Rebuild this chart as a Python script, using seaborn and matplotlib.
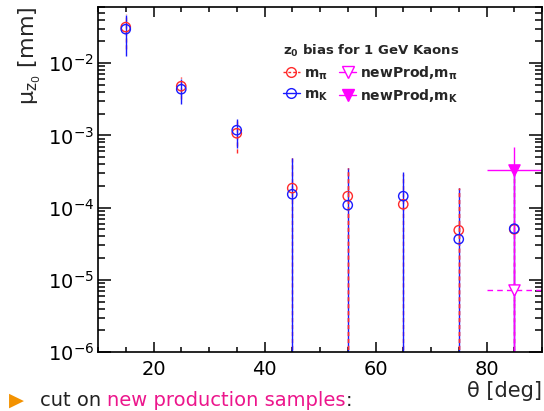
import pandas as pd
import seaborn as sns
import matplotlib.pyplot as plt
from matplotlib.lines import Line2D
from matplotlib.ticker import MultipleLocator, LogLocator, NullFormatter

# z0 bias vs theta
theta = [15, 25, 35, 45, 55, 65, 75, 85]
mu_pi = [0.0316, 0.0048, 1.07e-3, 1.86e-4, 1.44e-4, 1.11e-4, 4.86e-5, 5.0e-5]
err_pi = [0.016, 0.0016, 5.0e-4, 3.1e-4, 2.1e-4, 1.8e-4, 1.37e-4, 2.5e-4]
mu_k = [0.0296, 0.00436, 1.18e-3, 1.53e-4, 1.08e-4, 1.44e-4, 3.65e-5, 5.1e-5]
err_k = [0.017, 0.0016, 5.1e-4, 3.3e-4, 2.4e-4, 1.7e-4, 1.5e-4, 2.5e-4]
pi_on_top = [55, 75]

theta_new = [85]
theta_new_err = [5]
mu_new_pi = [7.2e-6]
err_new_pi = [1.0e-5]
mu_new_k = [3.3e-4]
err_new_k = [3.6e-4]

legend_title = r'$\mathbf{z_0}$ bias for 1 GeV Kaons'
labels = [r'm$_{\mathbf{\pi}}$', r'm$_{\mathbf{K}}$',
          r'newProd,m$_{\mathbf{\pi}}$', r'newProd,m$_{\mathbf{K}}$']

RED = '#ff2a2a'
BLUE = '#1a1aff'
MAG = '#ff00ff'

sns.set_theme(style="ticks")
plt.rcParams['font.family'] = ['DejaVu Sans']
plt.rcParams['axes.linewidth'] = 1.2

df = pd.DataFrame({'theta': theta, 'mu_pi': mu_pi, 'mu_k': mu_k})
df_new = pd.DataFrame({'theta': theta_new, 'pi': mu_new_pi, 'k': mu_new_k})

fig = plt.figure(figsize=(5.44, 4.11), dpi=100)
ax = fig.add_axes([98/544, 1-352/411, 444/544, 345/411])
ax.set_yscale('log')

# error bars
eb = ax.errorbar(theta, mu_pi, yerr=err_pi, fmt='none', ecolor=RED, elinewidth=1)
eb.lines[2][0].set_linestyle((0, (3, 2)))
ax.errorbar(theta, mu_k, yerr=err_k, fmt='none', ecolor=BLUE, elinewidth=1)
top = df[df.theta.isin(pi_on_top)]
eb = ax.errorbar(top.theta, top.mu_pi, yerr=[err_pi[theta.index(t)] for t in pi_on_top],
                 fmt='none', ecolor=RED, elinewidth=1)
eb.lines[2][0].set_linestyle((0, (3, 2)))

eb = ax.errorbar(theta_new, mu_new_pi, xerr=theta_new_err, yerr=err_new_pi,
                 fmt='none', ecolor=MAG, elinewidth=1)
for lc in eb.lines[2]:
    lc.set_linestyle((0, (4, 3)))
ax.errorbar(theta_new, mu_new_k, xerr=theta_new_err, yerr=err_new_k,
            fmt='none', ecolor=MAG, elinewidth=1)

# markers
sns.scatterplot(data=df, x='theta', y='mu_pi', ax=ax, marker='o', s=45,
                facecolor='none', edgecolor=RED, linewidth=1, color=RED, zorder=3, legend=False)
sns.scatterplot(data=df, x='theta', y='mu_k', ax=ax, marker='o', s=45,
                facecolor='none', edgecolor=BLUE, linewidth=1, color=BLUE, zorder=4, legend=False)
sns.scatterplot(data=df_new, x='theta', y='pi', ax=ax, marker='v', s=65,
                facecolor='white', edgecolor=MAG, linewidth=1, color=MAG, zorder=4, legend=False)
sns.scatterplot(data=df_new, x='theta', y='k', ax=ax, marker='v', s=65,
                facecolor=MAG, edgecolor=MAG, linewidth=1, color=MAG, zorder=4, legend=False)

ax.set_xlim(10, 90)
ax.set_ylim(1e-6, 0.06)
ax.xaxis.set_major_locator(MultipleLocator(20))
ax.xaxis.set_minor_locator(MultipleLocator(5))
ax.yaxis.set_major_locator(LogLocator(base=10, numticks=12))
ax.yaxis.set_minor_locator(LogLocator(base=10, subs=range(2, 10), numticks=12))
ax.yaxis.set_minor_formatter(NullFormatter())
ax.tick_params(which='both', direction='in', top=True, right=True, width=1.1,
               labelsize=14, colors='black')
ax.tick_params(axis='x', which='major', length=7, pad=6)
ax.tick_params(axis='x', which='minor', length=3.5)
ax.tick_params(axis='y', which='major', length=9.5, pad=3)
ax.tick_params(axis='y', which='minor', length=5)
for s in ax.spines.values():
    s.set_color('black')

ax.set_xlabel('θ [deg]', loc='right', fontsize=15, labelpad=1)
ax.set_ylabel(r'μ$_{\mathrm{z_0}}$ [mm]', loc='top', fontsize=16, labelpad=3)

handles = [
    Line2D([], [], color=RED, ls=(0, (2, 1.5)), marker='o', mfc='none', ms=7, lw=1),
    Line2D([], [], color=BLUE, ls='-', marker='o', mfc='none', ms=7, lw=1),
    Line2D([], [], color=MAG, ls='-', marker='v', mfc='white', ms=8, lw=1),
    Line2D([], [], color=MAG, ls='-', marker='v', mfc=MAG, ms=8, lw=1),
]
leg = ax.legend(handles, labels, ncol=2, title=legend_title, frameon=False,
                loc='upper left', bbox_to_anchor=(0.395, 0.925),
                prop={'weight': 'bold', 'size': 10},
                title_fontproperties={'weight': 'bold', 'size': 9.5},
                handlelength=1.2, handletextpad=0.3, columnspacing=0.8,
                labelspacing=0.4, alignment='left', borderpad=0.2)

# slide text under the plot
fig.text(9/544, 1-406/411, '▶', color='#f39200', fontsize=14, va='baseline')
t1 = fig.text(40/544, 1-406/411, 'cut on ', color='#222222', fontsize=14, va='baseline')
t2 = ax.annotate('new production samples', xy=(1, 0), xycoords=t1, color='#ec168c',
                 fontsize=14, va='bottom', annotation_clip=False)
ax.annotate(':', xy=(1, 0), xycoords=t2, color='#222222', fontsize=14, va='bottom',
            annotation_clip=False)

fig.savefig('out.png', dpi=100)
